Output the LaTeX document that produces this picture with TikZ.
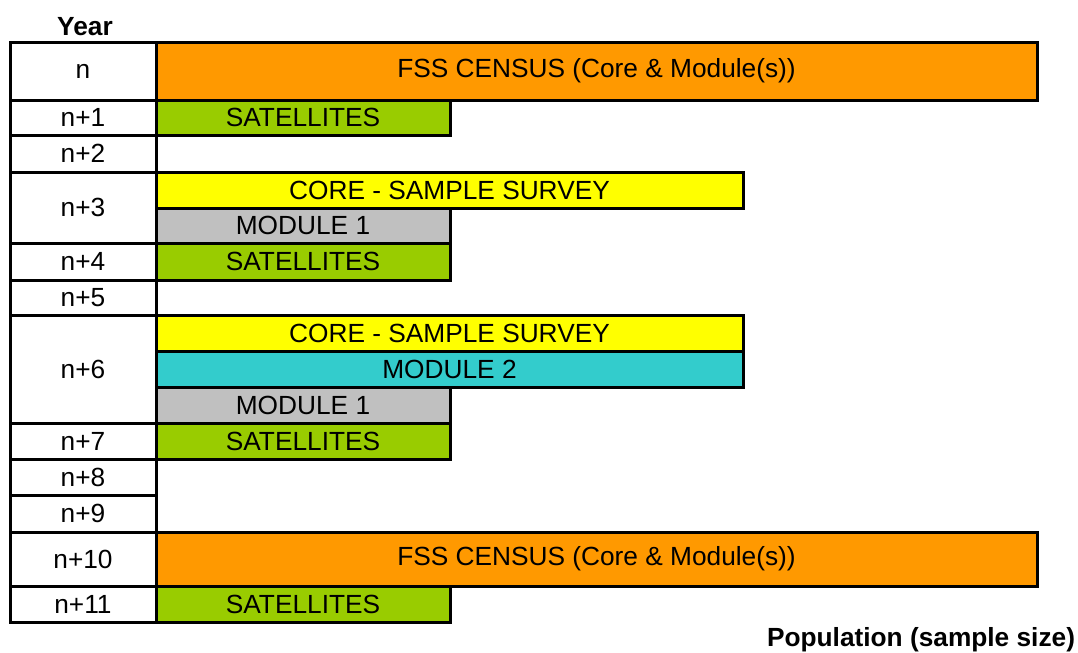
\documentclass[tikz,border=0pt]{standalone}
\usepackage{fontspec}
\setmainfont{Liberation Sans}
\usetikzlibrary{positioning}

\definecolor{census}{HTML}{FF9900}
\definecolor{satgreen}{HTML}{99CC00}
\definecolor{coreyellow}{HTML}{FFFF00}
\definecolor{modgrey}{HTML}{C0C0C0}
\definecolor{modcyan}{HTML}{33CCCC}

\begin{document}
\begin{tikzpicture}[x=0.75pt,y=-0.75pt,
    every node/.style={font=\fontsize{19.7}{22}\selectfont, inner sep=0pt, outer sep=0pt},
    yearcell/.style={draw, line width=2.25pt, rectangle, minimum width=109.5pt},
    bar/.style={draw, line width=2.25pt, rectangle, anchor=west},
    heading/.style={font=\fontsize{19.7}{22}\selectfont\bfseries}]
    \useasboundingbox (0,0) rectangle (1078,653);
    % year column
    \foreach \lab/\top/\bot [count=\i] in {n/42/100, n+1/100/135, n+2/135/172,
        n+3/172/243, n+4/243/280, n+5/280/315, n+6/315/423, n+7/423/459,
        n+8/459/495, n+9/495/532, n+10/532/586, n+11/586/622}
        \node [yearcell, minimum height={(\bot-\top)*0.75pt}] (year\i) at (83,{(\top+\bot)/2}) {\lab};
    % bars
    \node [bar, fill=census, minimum width={881*0.75pt}, minimum height={58*0.75pt}] (census1) at (156,71) {FSS CENSUS (Core \& Module(s))};
    \node [bar, fill=satgreen, minimum width={294*0.75pt}, minimum height={35*0.75pt}] (sat1) at (156,117.5) {SATELLITES};
    \node [bar, fill=coreyellow, minimum width={587*0.75pt}, minimum height={36*0.75pt}] (core1) at (156,190) {CORE - SAMPLE SURVEY};
    \node [bar, fill=modgrey, minimum width={294*0.75pt}, minimum height={35*0.75pt}] (modone1) at (156,225.5) {MODULE 1};
    \node [bar, fill=satgreen, minimum width={294*0.75pt}, minimum height={37*0.75pt}] (sat2) at (156,261.5) {SATELLITES};
    \node [bar, fill=coreyellow, minimum width={587*0.75pt}, minimum height={36*0.75pt}] (core2) at (156,333) {CORE - SAMPLE SURVEY};
    \node [bar, fill=modcyan, minimum width={587*0.75pt}, minimum height={36*0.75pt}] (modtwo) at (156,369) {MODULE 2};
    \node [bar, fill=modgrey, minimum width={294*0.75pt}, minimum height={36*0.75pt}] (modone2) at (156,405) {MODULE 1};
    \node [bar, fill=satgreen, minimum width={294*0.75pt}, minimum height={36*0.75pt}] (sat3) at (156,441) {SATELLITES};
    \node [bar, fill=census, minimum width={881*0.75pt}, minimum height={54*0.75pt}] (census2) at (156,559) {FSS CENSUS (Core \& Module(s))};
    \node [bar, fill=satgreen, minimum width={294*0.75pt}, minimum height={36*0.75pt}] (sat4) at (156,604) {SATELLITES};
    % headings
    \node [heading] (yearhead) at (85,27) {Year};
    \node [heading, anchor=east] (pophead) at (1075,640) {Population (sample size)};
\end{tikzpicture}
\end{document}
